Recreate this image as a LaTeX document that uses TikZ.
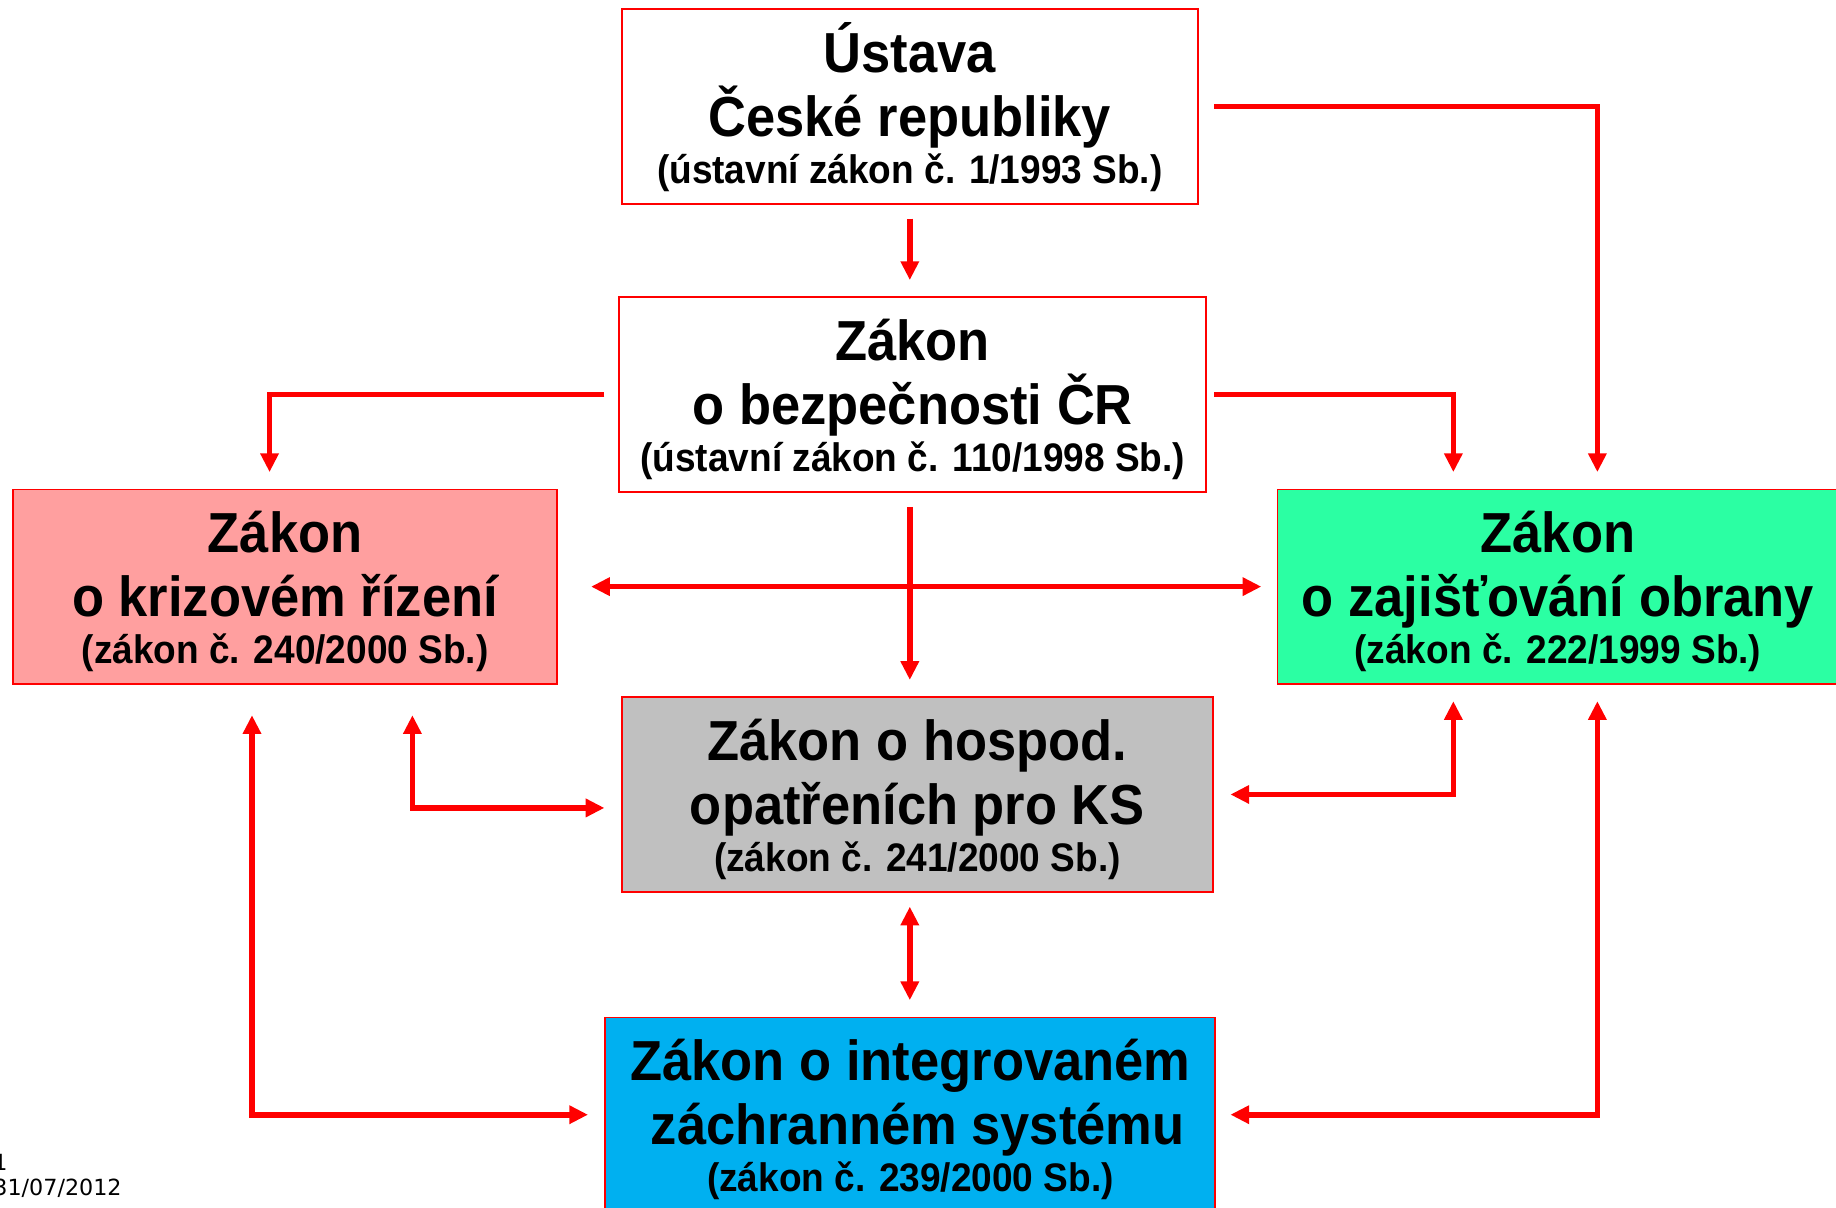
\documentclass[tikz,border=0pt]{standalone}
\usepackage{fontspec}
\setmainfont{Liberation Sans}[FakeStretch=0.93]
\newfontfamily\datumfont{DejaVu Sans}
\usepackage{xcolor}
\usetikzlibrary{arrows.meta}

\definecolor{krizcol}{HTML}{FF9F9F}
\definecolor{obrcol}{HTML}{2BFFA3}
\definecolor{hospcol}{HTML}{C0C0C0}
\definecolor{izscol}{HTML}{00B0F0}
\newcommand\velky{\fontsize{24.1}{27.25}\selectfont\bfseries}
\newcommand\maly{\fontsize{17}{20}\selectfont}
\newcommand\vrch{\rule{0pt}{21.9pt}}

\tikzset{
    zakon/.style={draw=red, line width=0.8pt, minimum height=83pt, inner sep=0pt, align=center, font=\velky},
    arr/.style={draw=red, line width=2.4pt, -{Triangle[length=8pt,width=7.5pt]}},
    darr/.style={draw=red, line width=2.4pt, {Triangle[length=8pt,width=7.5pt]}-{Triangle[length=8pt,width=7.5pt]}}
}

\begin{document}
\begin{tikzpicture}[x=0.5pt, y=-0.5pt]
        \useasboundingbox (0,0) rectangle (1568,1031);
        \node [zakon, fill=white, minimum width=246pt] (ustava) at (777,91) {\vrch Ústava\\České republiky\\[-7.25pt]{\maly (ústavní zákon č. 1/1993 Sb.)}}; % Ustava top
        \node [zakon, fill=white, minimum width=250.5pt] (bezp) at (779.5,337) {\vrch Zákon\\o bezpečnosti ČR\\[-7.25pt]{\maly (ústavní zákon č. 110/1998 Sb.)}}; % bezpecnost
        \node [zakon, fill=krizcol, minimum width=232.5pt] (krize) at (243.5,501) {\vrch Zákon\\o krizovém řízení\\[-7.25pt]{\maly (zákon č. 240/2000 Sb.)}}; % krizove rizeni (left)
        \node [zakon, fill=obrcol, minimum width=239.5pt] (obrana) at (1330.5,501) {\vrch Zákon\\o zajišťování obrany\\[-7.25pt]{\maly (zákon č. 222/1999 Sb.)}}; % obrana (right, cut off)
        \node [zakon, fill=hospcol, minimum width=252.5pt] (hosp) at (783.5,678.5) {\vrch Zákon o hospod.\\opatřeních pro KS\\[-7.25pt]{\maly (zákon č. 241/2000 Sb.)}}; % hospodarska opatreni
        \node [zakon, fill=izscol, minimum width=260.5pt] (izs) at (777.5,952) {\vrch Zákon o integrovaném\\\ záchranném systému\\[-7.25pt]{\maly (zákon č. 239/2000 Sb.)}}; % IZS bottom
        \node [anchor=north west, align=left, inner sep=0pt, font=\datumfont\fontsize{9.5}{10.7}\selectfont] (datum) at (-6,985) {1\\31/07/2012}; % page number and date

        \draw [arr] ([yshift=-6pt]ustava.south) -- ([yshift=7pt]ustava.south |- bezp.north);
        \draw [arr] ([xshift=6.5pt]ustava.east) -| ([xshift=137pt,yshift=7pt]obrana.north west);
        \draw [arr] ([xshift=-6pt]bezp.west) -| ([xshift=110pt,yshift=7pt]krize.north west);
        \draw [arr] ([xshift=3pt]bezp.east) -| ([xshift=75.5pt,yshift=7pt]obrana.north west);
        \draw [arr] ([yshift=-6pt]ustava.south |- bezp.south) -- ([yshift=7pt]ustava.south |- hosp.north);
        \draw [darr] ([xshift=14pt]krize.east) -- ([xshift=-6.5pt]obrana.west);
        \draw [darr] ([xshift=171pt,yshift=-13pt]krize.south west) |- ([xshift=-7pt,yshift=-5.75pt]hosp.west);
        \draw [darr] ([xshift=75.5pt,yshift=-7pt]obrana.south west) |- ([xshift=7pt]hosp.east);
        \draw [darr] ([yshift=-6pt]ustava.south |- hosp.south) -- ([yshift=7pt]ustava.south |- izs.north);
        \draw [darr] ([xshift=102.5pt,yshift=-13pt]krize.south west) |- ([xshift=-7pt]izs.west);
        \draw [darr] ([xshift=137pt,yshift=-7pt]obrana.south west) |- ([xshift=6pt]izs.east);
\end{tikzpicture}
\end{document}
